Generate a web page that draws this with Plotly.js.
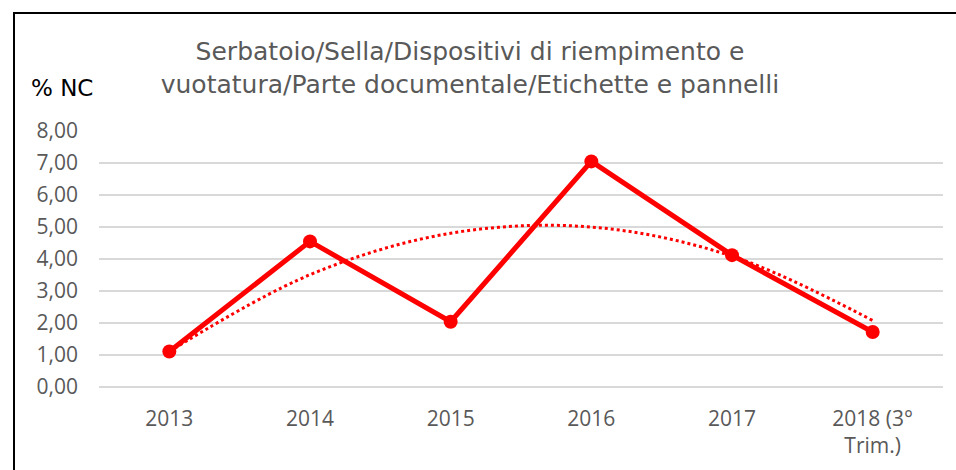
<!DOCTYPE html>
<html>
<head>
<meta charset="utf-8">
<script src="https://cdn.plot.ly/plotly-3.0.1.min.js"></script>
<style>
  html, body { margin: 0; padding: 0; background: #fff; }
  #wrap { position: relative; width: 956px; height: 470px; overflow: hidden; }
  #chart { position: absolute; left: 0; top: 0; width: 956px; height: 470px; }
  #frame { position: absolute; left: 13px; top: 12px; width: 1000px; height: 600px;
           border-top: 2px solid #000; border-left: 2px solid #000; pointer-events: none; }
</style>
</head>
<body>
<div id="wrap">
  <div id="chart"></div>
  <div id="frame"></div>
</div>
<script>
// ---- data ----
const categories = ["2013", "2014", "2015", "2016", "2017", "2018 (3°<br>Trim.)"];
const values = [1.11, 4.55, 2.04, 7.05, 4.12, 1.72];
const yTickVals = [0, 1, 2, 3, 4, 5, 6, 7, 8];
const yTickText = ["0,00", "1,00", "2,00", "3,00", "4,00", "5,00", "6,00", "7,00", "8,00"];
const titleText = "Serbatoio/Sella/Dispositivi di riempimento e<br>vuotatura/Parte documentale/Etichette e pannelli";
const yLabel = "% NC";

// ---- quadratic (order 2) least-squares trendline, as in the source spreadsheet ----
function quadFit(ys) {
  const n = ys.length;
  let S0 = n, S1 = 0, S2 = 0, S3 = 0, S4 = 0, T0 = 0, T1 = 0, T2 = 0;
  for (let i = 0; i < n; i++) {
    const x = i + 1, y = ys[i];
    S1 += x; S2 += x * x; S3 += x * x * x; S4 += x * x * x * x;
    T0 += y; T1 += x * y; T2 += x * x * y;
  }
  const M = [[S4, S3, S2, T2], [S3, S2, S1, T1], [S2, S1, S0, T0]];
  for (let c = 0; c < 3; c++) {
    for (let r = c + 1; r < 3; r++) {
      const f = M[r][c] / M[c][c];
      for (let k = c; k < 4; k++) M[r][k] -= f * M[c][k];
    }
  }
  const s = [0, 0, 0];
  for (let r = 2; r >= 0; r--) {
    let v = M[r][3];
    for (let k = r + 1; k < 3; k++) v -= M[r][k] * s[k];
    s[r] = v / M[r][r];
  }
  return s; // a, b, c
}
const [qa, qb, qc] = quadFit(values);
const trendValues = values.map((_, i) => { const x = i + 1; return qa * x * x + qb * x + qc; });

const font = "'Open Sans', 'Liberation Sans', sans-serif";
const titleFont = "'DejaVu Sans', 'Open Sans', sans-serif";
const gray = "#595959";

const traces = [
  {
    x: categories, y: trendValues, type: "scatter", mode: "lines",
    line: { color: "#ff0000", width: 3, dash: "dot", shape: "spline", smoothing: 1.0 },
    hoverinfo: "skip", showlegend: false
  },
  {
    x: categories, y: values, type: "scatter", mode: "lines+markers",
    line: { color: "#ff0000", width: 5 },
    marker: { color: "#ff0000", size: 14 },
    hoverinfo: "skip", showlegend: false
  }
];

const layout = {
  width: 956, height: 470,
  margin: { l: 99, r: 13, t: 131, b: 83 },
  paper_bgcolor: "#ffffff", plot_bgcolor: "#ffffff",
  font: { family: font, color: gray },
  showlegend: false,
  title: {
    text: titleText,
    font: { family: titleFont, size: 25, color: gray },
    x: 0.4916, xref: "container", xanchor: "center",
    y: 0.872, yref: "container", yanchor: "middle"
  },
  xaxis: {
    type: "category", range: [-0.5, 5.5],
    tickfont: { family: font, size: 21, color: gray },
    showgrid: false, zeroline: false, showline: false,
    ticks: "", ticklabelstandoff: 17, fixedrange: true
  },
  yaxis: {
    range: [0, 8],
    tickvals: yTickVals, ticktext: yTickText,
    tickfont: { family: font, size: 21, color: gray },
    showgrid: true, gridcolor: "#d9d9d9", gridwidth: 1.5,
    zeroline: true, zerolinecolor: "#d9d9d9", zerolinewidth: 1.5,
    showline: false, ticks: "", ticklabelstandoff: 20, fixedrange: true
  },
  annotations: [{
    text: yLabel, xref: "paper", yref: "paper",
    x: -70 / 845, xanchor: "left", y: (387 - 88) / 256, yanchor: "middle",
    showarrow: false, font: { family: titleFont, size: 23, color: "#000000" }
  }]
};

Plotly.newPlot("chart", traces, layout, { staticPlot: true, displayModeBar: false });
</script>
</body>
</html>
